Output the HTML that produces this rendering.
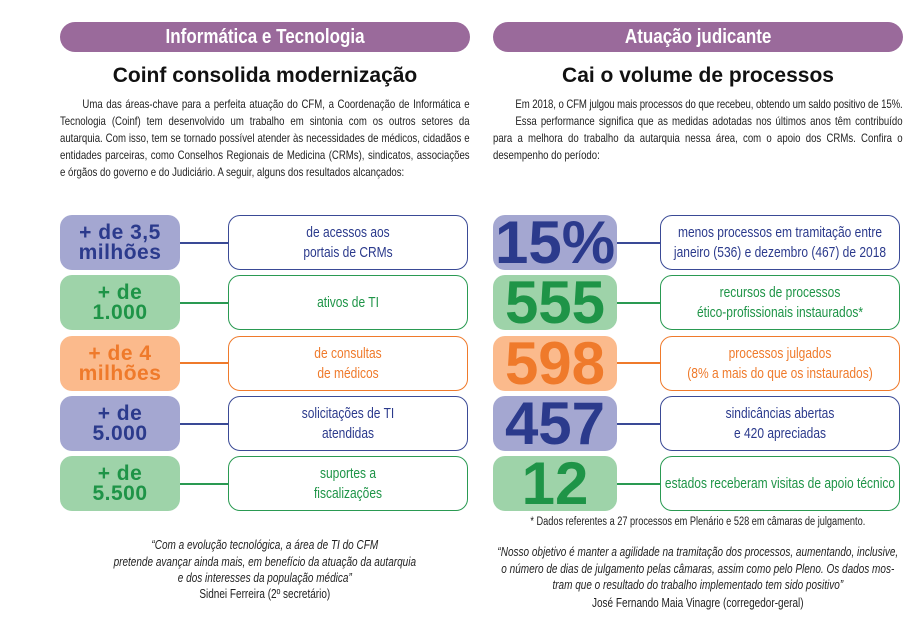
<!DOCTYPE html>
<html><head><meta charset="utf-8">
<style>
body{margin:0;width:922px;height:640px;background:#fff;position:relative;overflow:hidden;font-family:"Liberation Sans",sans-serif;color:#222}
.abs{position:absolute}
.hdr{position:absolute;top:22px;height:30px;background:#9a6a9b;border-radius:15px;color:#fff;font:bold 20px "Liberation Sans",sans-serif;text-align:center;line-height:30px}
.hdr span{display:inline-block;transform:scaleX(0.85)}
.ttl{position:absolute;top:64px;font:bold 21px "Liberation Sans",sans-serif;text-align:center;color:#111}
.par{position:absolute;font-size:12px;line-height:17px;text-align:justify;color:#222;width:512px;transform:scaleX(0.8);transform-origin:left top}
.nb{position:absolute;width:120px;height:55px;border-radius:12px;font:bold 21px/20px "Liberation Sans",sans-serif;letter-spacing:0.5px;text-align:center;display:flex;align-items:center;justify-content:center}
.nb2{position:absolute;width:124px;height:55px;border-radius:12px;font:bold 60px/56px "Liberation Sans",sans-serif;text-align:center}
.tb{position:absolute;width:238px;height:53px;border-radius:12px;border:1.5px solid;background:#fff;font-size:15px;line-height:20px;text-align:center;display:flex;align-items:center;justify-content:center}
.tb div{flex:none;width:290px;transform:scaleX(0.8);transform-origin:center}
.ln{position:absolute;height:1.5px}
.b{background:#a4a7d1;color:#2b3a8c}.g{background:#9ed3a9;color:#1e9447}.o{background:#fbba8c;color:#ef7a2b}
.tbb{border-color:#3a4a96;color:#2b3a8c}.tbg{border-color:#2a9a52;color:#1e9447}.tbo{border-color:#ef7a2b;color:#ef7a2b}
.q{position:absolute;font-size:12.5px;line-height:16.5px;text-align:center;font-style:italic;color:#222;width:512px;transform:scaleX(0.8);transform-origin:left top}
.c{position:absolute;width:512px;text-align:center;font-size:12.5px;transform:scaleX(0.8);transform-origin:left top}
</style></head><body>
<div class="hdr" style="left:60px;width:410px"><span>Informática e Tecnologia</span></div>
<div class="hdr" style="left:493px;width:410px"><span>Atuação judicante</span></div>
<div class="ttl" style="left:60px;width:410px">Coinf consolida modernização</div>
<div class="ttl" style="left:493px;width:410px">Cai o volume de processos</div>
<div class="par" style="left:60px;top:96px;text-indent:28px">Uma das áreas-chave para a perfeita atuação do CFM, a Coordenação de Informática e Tecnologia (Coinf) tem desenvolvido um trabalho em sintonia com os outros setores da autarquia. Com isso, tem se tornado possível atender às necessidades de médicos, cidadãos e entidades parceiras, como Conselhos Regionais de Medicina (CRMs), sindicatos, associações e órgãos do governo e do Judiciário. A seguir, alguns dos resultados alcançados:</div>
<div class="par" style="left:493px;top:96px"><div style="text-indent:28px;letter-spacing:-0.12px;white-space:nowrap;text-align-last:justify;text-align:justify">Em 2018, o CFM julgou mais processos do que recebeu, obtendo um saldo positivo de 15%.</div><div style="text-indent:28px">Essa performance significa que as medidas adotadas nos últimos anos têm contribuído para a melhora do trabalho da autarquia nessa área, com o apoio dos CRMs. Confira o desempenho do período:</div></div>

<div class="ln" style="left:180px;width:48px;top:242px;background:#3a4a96"></div>
<div class="nb b" style="left:60px;top:215px">+ de 3,5<br>milhões</div>
<div class="tb tbb" style="left:228px;top:215px"><div>de acessos aos<br>portais de CRMs</div></div>
<div class="ln" style="left:180px;width:48px;top:302px;background:#2a9a52"></div>
<div class="nb g" style="left:60px;top:275px">+ de<br>1.000</div>
<div class="tb tbg" style="left:228px;top:275px"><div>ativos de TI</div></div>
<div class="ln" style="left:180px;width:48px;top:362px;background:#ef7a2b"></div>
<div class="nb o" style="left:60px;top:336px">+ de 4<br>milhões</div>
<div class="tb tbo" style="left:228px;top:336px"><div>de consultas<br>de médicos</div></div>
<div class="ln" style="left:180px;width:48px;top:423px;background:#3a4a96"></div>
<div class="nb b" style="left:60px;top:396px">+ de<br>5.000</div>
<div class="tb tbb" style="left:228px;top:396px"><div>solicitações de TI<br>atendidas</div></div>
<div class="ln" style="left:180px;width:48px;top:483px;background:#2a9a52"></div>
<div class="nb g" style="left:60px;top:456px">+ de<br>5.500</div>
<div class="tb tbg" style="left:228px;top:456px"><div>suportes a<br>fiscalizações</div></div>

<div class="ln" style="left:617px;width:43px;top:242px;background:#3a4a96"></div>
<div class="nb2 b" style="left:493px;top:215px">15%</div>
<div class="tb tbb" style="left:660px;top:215px"><div>menos processos em tramitação entre<br>janeiro (536) e dezembro (467) de 2018</div></div>
<div class="ln" style="left:617px;width:43px;top:302px;background:#2a9a52"></div>
<div class="nb2 g" style="left:493px;top:275px">555</div>
<div class="tb tbg" style="left:660px;top:275px"><div>recursos de processos<br>ético-profissionais instaurados*</div></div>
<div class="ln" style="left:617px;width:43px;top:362px;background:#ef7a2b"></div>
<div class="nb2 o" style="left:493px;top:336px">598</div>
<div class="tb tbo" style="left:660px;top:336px"><div>processos julgados<br>(8% a mais do que os instaurados)</div></div>
<div class="ln" style="left:617px;width:43px;top:423px;background:#3a4a96"></div>
<div class="nb2 b" style="left:493px;top:396px">457</div>
<div class="tb tbb" style="left:660px;top:396px"><div>sindicâncias abertas<br>e 420 apreciadas</div></div>
<div class="ln" style="left:617px;width:43px;top:483px;background:#2a9a52"></div>
<div class="nb2 g" style="left:493px;top:456px">12</div>
<div class="tb tbg" style="left:660px;top:456px"><div>estados receberam visitas de apoio técnico</div></div>

<div class="c" style="left:493px;top:516px;font-size:11.5px">* Dados referentes a 27 processos em Plenário e 528 em câmaras de julgamento.</div>
<div class="q" style="left:60px;top:537px">“Com a evolução tecnológica, a área de TI do CFM<br>pretende avançar ainda mais, em benefício da atuação da autarquia<br>e dos interesses da população médica”</div>
<div class="c" style="left:60px;top:587px">Sidnei Ferreira (2º secretário)</div>
<div class="q" style="left:493px;top:544px">“Nosso objetivo é manter a agilidade na tramitação dos processos, aumentando, inclusive,<br>o número de dias de julgamento pelas câmaras, assim como pelo Pleno. Os dados mos-<br>tram que o resultado do trabalho implementado tem sido positivo”</div>
<div class="c" style="left:493px;top:596px">José Fernando Maia Vinagre (corregedor-geral)</div>
</body></html>
